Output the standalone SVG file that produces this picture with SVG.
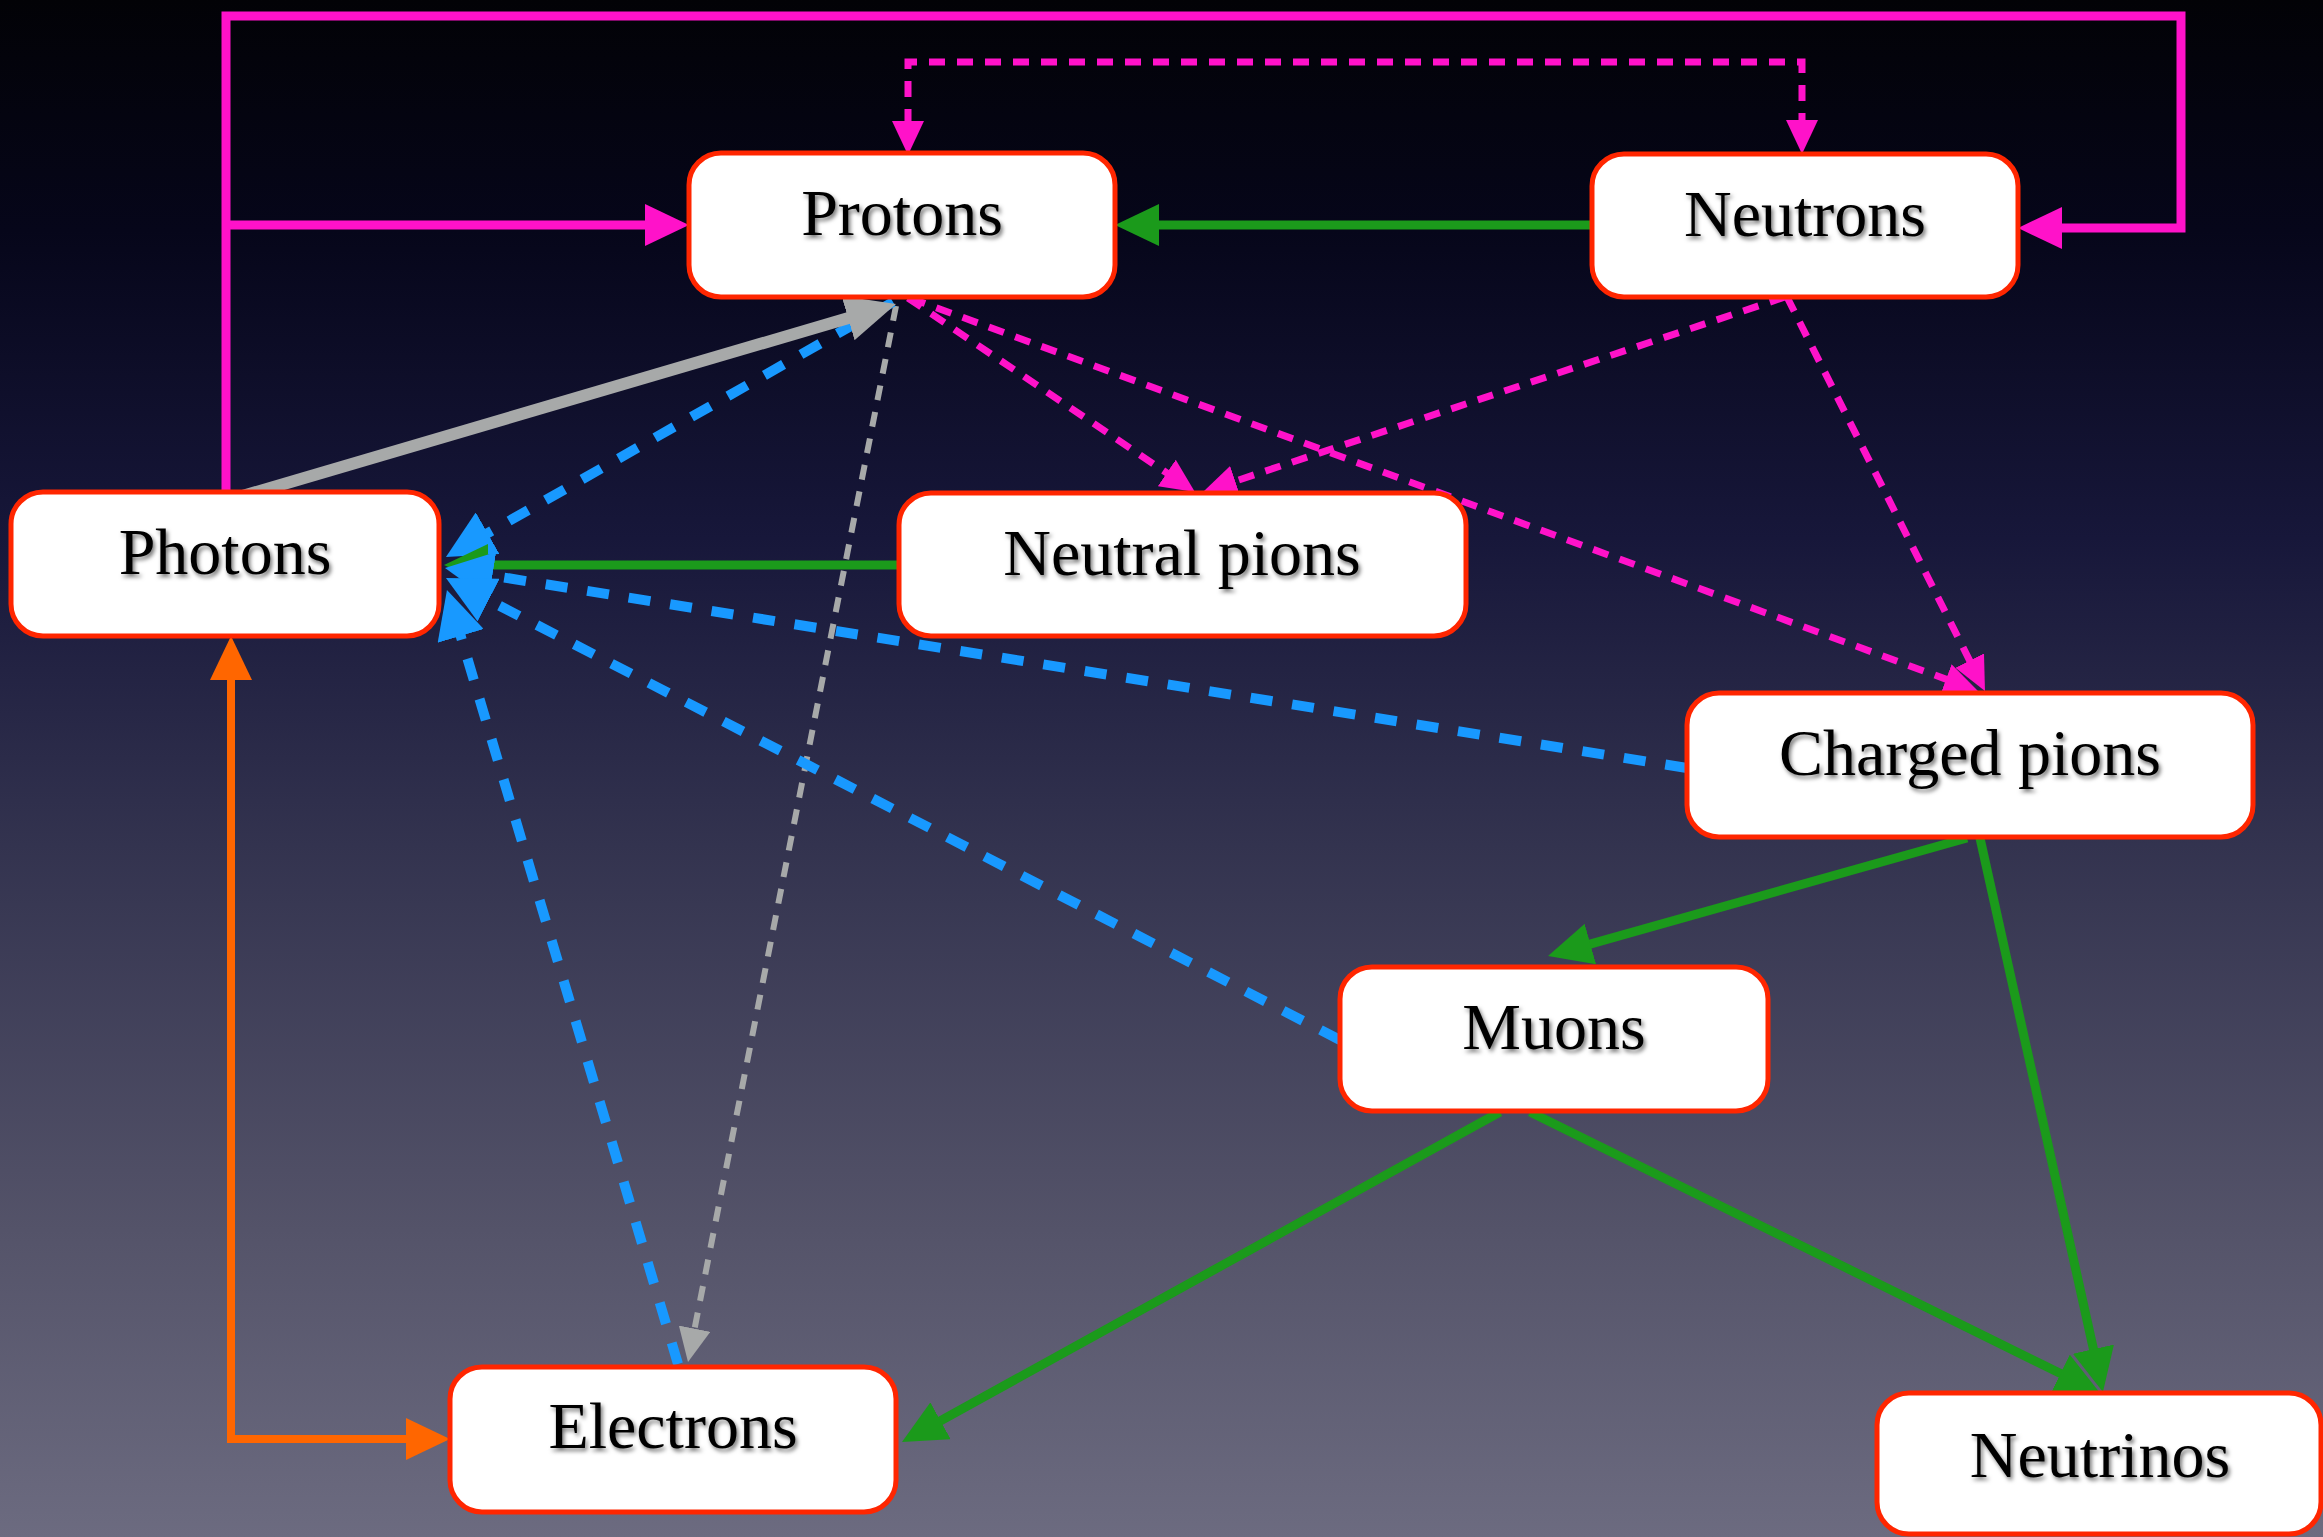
<svg xmlns="http://www.w3.org/2000/svg" width="2323" height="1537" viewBox="0 0 2323 1537">
<defs>
<linearGradient id="bg" x1="0" y1="0" x2="0" y2="1">
<stop offset="0" stop-color="#020206"/>
<stop offset="0.15" stop-color="#06061a"/>
<stop offset="0.35" stop-color="#17173a"/>
<stop offset="0.55" stop-color="#33334f"/>
<stop offset="0.8" stop-color="#545369"/>
<stop offset="1" stop-color="#6c6b80"/>
</linearGradient>
<filter id="ts" x="-10%" y="-30%" width="130%" height="160%">
<feDropShadow dx="2" dy="3" stdDeviation="2" flood-color="#000" flood-opacity="0.55"/>
</filter>
<marker id="aMag" markerUnits="userSpaceOnUse" markerWidth="44" markerHeight="42" refX="4" refY="21" orient="auto-start-reverse"><path d="M0,0 L44,21 L0,42 Z" fill="#ff12c9"/></marker>
<marker id="aMagS" markerUnits="userSpaceOnUse" markerWidth="34" markerHeight="32" refX="4" refY="16" orient="auto-start-reverse"><path d="M0,0 L34,16 L0,32 Z" fill="#ff12c9"/></marker>
<marker id="aGrn" markerUnits="userSpaceOnUse" markerWidth="44" markerHeight="42" refX="4" refY="21" orient="auto-start-reverse"><path d="M0,0 L44,21 L0,42 Z" fill="#1b9a1b"/></marker>
<marker id="aBlu" markerUnits="userSpaceOnUse" markerWidth="48" markerHeight="48" refX="8" refY="24" orient="auto-start-reverse"><path d="M0,0 L48,24 L0,48 Z" fill="#1899ff"/></marker>
<marker id="aGry" markerUnits="userSpaceOnUse" markerWidth="50" markerHeight="46" refX="4" refY="23" orient="auto-start-reverse"><path d="M0,0 L50,23 L0,46 Z" fill="#a7a9a9"/></marker>
<marker id="aGryS" markerUnits="userSpaceOnUse" markerWidth="34" markerHeight="32" refX="4" refY="16" orient="auto-start-reverse"><path d="M0,0 L34,16 L0,32 Z" fill="#a7a9a9"/></marker>
<marker id="aOrg" markerUnits="userSpaceOnUse" markerWidth="44" markerHeight="42" refX="4" refY="21" orient="auto-start-reverse"><path d="M0,0 L44,21 L0,42 Z" fill="#ff6600"/></marker>
</defs>
<style>
.box{fill:#fff;stroke:#ff2600;stroke-width:5}
.lbl{font-family:"Liberation Serif","Times New Roman",serif;font-size:66px;fill:#000;text-anchor:middle}
.c{fill:none;stroke-linejoin:miter}
.mag{stroke:#ff12c9;stroke-width:9}
.magd{stroke:#ff12c9;stroke-width:7;stroke-dasharray:16 12}
.grn{stroke:#1b9a1b;stroke-width:9}
.blu{stroke:#1899ff;stroke-width:10;stroke-dasharray:22 20}
.gry{stroke:#a7a9a9;stroke-width:12}
.gryd{stroke:#a7a9a9;stroke-width:6;stroke-dasharray:15 12}
.org{stroke:#ff6600;stroke-width:8}
</style>
<rect x="0" y="0" width="2323" height="1537" fill="url(#bg)"/>
<g id="connectors">
<path class="c mag" d="M226,494 V16 H2181 V228 H2058" marker-end="url(#aMag)"/>
<path class="c mag" d="M226,225 H649" marker-end="url(#aMag)"/>
<path class="c magd" d="M908,125 V62 H1802 V124" marker-start="url(#aMagS)" marker-end="url(#aMagS)"/>
<path class="c grn" d="M1592,225 H1155" marker-end="url(#aGrn)"/>
<path class="c magd" d="M908,298 L1170.1,475.2" marker-end="url(#aMagS)"/>
<path class="c magd" d="M910,298 L1949.8,680.6" marker-end="url(#aMagS)"/>
<path class="c magd" d="M1785,297 L1231.4,482.5" marker-end="url(#aMagS)"/>
<path class="c magd" d="M1787,297 L1971.5,664.2" marker-end="url(#aMagS)"/>
<path class="c gryd" d="M896,306 L693.8,1332.6" marker-end="url(#aGryS)"/>
<path class="c blu" d="M893,302 L480.7,537.2" marker-end="url(#aBlu)"/>
<path class="c gry" d="M229,500 L851.9,317" marker-end="url(#aGry)"/>
<path class="c grn" d="M899,565 H484" marker-end="url(#aGrn)"/>
<path class="c blu" d="M1687,768 L484.5,574.4" marker-end="url(#aBlu)"/>
<path class="c blu" d="M1340,1040 L481.5,596.4" marker-end="url(#aBlu)"/>
<path class="c blu" d="M678,1364 L458.4,628.3" marker-end="url(#aBlu)"/>
<path class="c org" d="M231,676 V1439 H410" marker-start="url(#aOrg)" marker-end="url(#aOrg)"/>
<path class="c grn" d="M1967,838 L1586.5,945.1" marker-end="url(#aGrn)"/>
<path class="c grn" d="M1980,838 L2094.3,1353" marker-end="url(#aGrn)"/>
<path class="c grn" d="M1530,1112 L2064.1,1375.3" marker-end="url(#aGrn)"/>
<path class="c grn" d="M1500,1112 L937,1422.7" marker-end="url(#aGrn)"/>
</g>
<g id="protons"><rect class="box" x="689" y="153" width="426" height="144" rx="32"/><text class="lbl" x="902" y="235" filter="url(#ts)">Protons</text></g>
<g id="neutrons"><rect class="box" x="1592" y="154" width="426" height="143" rx="32"/><text class="lbl" x="1805" y="236" filter="url(#ts)">Neutrons</text></g>
<g id="photons"><rect class="box" x="11" y="492" width="428" height="144" rx="32"/><text class="lbl" x="225" y="574" filter="url(#ts)">Photons</text></g>
<g id="neutral-pions"><rect class="box" x="899" y="493" width="567" height="143" rx="32"/><text class="lbl" x="1182" y="575" filter="url(#ts)">Neutral pions</text></g>
<g id="charged-pions"><rect class="box" x="1687" y="693" width="566" height="144" rx="32"/><text class="lbl" x="1970" y="775" filter="url(#ts)">Charged pions</text></g>
<g id="muons"><rect class="box" x="1340" y="967" width="428" height="144" rx="32"/><text class="lbl" x="1554" y="1049" filter="url(#ts)">Muons</text></g>
<g id="electrons"><rect class="box" x="450" y="1367" width="446" height="145" rx="32"/><text class="lbl" x="673" y="1448" filter="url(#ts)">Electrons</text></g>
<g id="neutrinos"><rect class="box" x="1877" y="1393" width="444" height="141" rx="32"/><text class="lbl" x="2100" y="1477" filter="url(#ts)">Neutrinos</text></g>
</svg>
